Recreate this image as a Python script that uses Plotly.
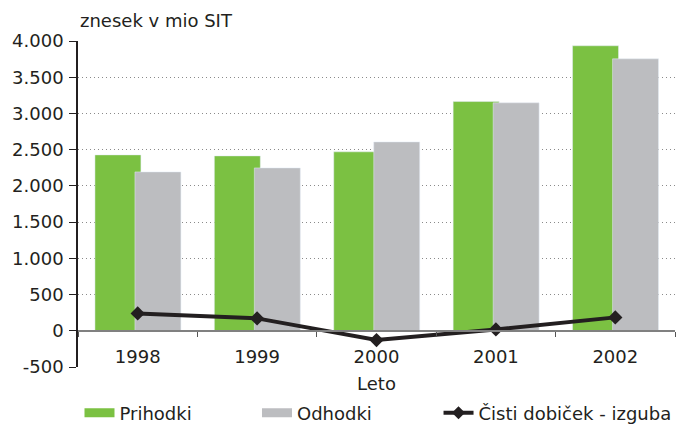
import plotly.graph_objects as go

years = ["1998", "1999", "2000", "2001", "2002"]
prihodki = [2428, 2414, 2470, 3164, 3934]
odhodki = [2193, 2248, 2607, 3147, 3754]
dobicek = [240, 171, -128, 19, 185]

y_tickvals = [-500, 0, 500, 1000, 1500, 2000, 2500, 3000, 3500, 4000]
y_ticktext = ["-500", "0", "500", "1.000", "1.500", "2.000", "2.500", "3.000", "3.500", "4.000"]

GREEN = "#7bc142"
GRAY = "#bcbdc0"
DARK = "#231f20"
FONT = "DejaVu Sans"
FS = 18

fig = go.Figure()
fig.add_trace(go.Bar(x=years, y=prihodki, name="Prihodki", marker_color=GREEN,
                     width=0.385, offset=-0.358, showlegend=False))
fig.add_trace(go.Bar(x=years, y=odhodki, name="Odhodki", marker_color=GRAY,
                     width=0.385, offset=-0.023, showlegend=False))
fig.add_trace(go.Scatter(x=years, y=dobicek, name="Čisti dobiček - izguba", mode="lines+markers",
                         line=dict(color=DARK, width=4),
                         marker=dict(symbol="diamond", size=11, color=DARK), showlegend=False))
# legend entries (one legend each so they can be placed like the reference)
fig.add_trace(go.Scatter(x=[None], y=[None], mode="lines", name="Prihodki",
                         line=dict(color=GREEN, width=9), legend="legend"))
fig.add_trace(go.Scatter(x=[None], y=[None], mode="lines", name="Odhodki",
                         line=dict(color=GRAY, width=9), legend="legend2"))
fig.add_trace(go.Scatter(x=[None], y=[None], mode="lines+markers", name="Čisti dobiček - izguba",
                         line=dict(color=DARK, width=4),
                         marker=dict(symbol="diamond", size=10, color=DARK), legend="legend3"))

leg_common = dict(orientation="h", xanchor="left", y=-0.141, yanchor="middle",
                  font=dict(size=FS, color=DARK), itemwidth=30, bgcolor="rgba(0,0,0,0)",
                  borderwidth=0)

# the page body has an 8px default margin, so the figure is 8px smaller than the window
fig.update_layout(
    width=676, height=417,
    margin=dict(l=70, r=9, t=33, b=58, autoexpand=False),
    paper_bgcolor="white", plot_bgcolor="white",
    barmode="overlay",
    font=dict(family=FONT, size=FS, color=DARK),
    showlegend=True,
    legend=dict(x=0.0025, **leg_common),
    legend2=dict(x=0.2998, **leg_common),
    legend3=dict(x=0.6039, **leg_common),
    xaxis=dict(type="category", range=[-0.5, 4.5], anchor="free", position=0.5 / 4.5,
               showline=True, linecolor="#808080", linewidth=1.5,
               ticks="outside", ticklen=5, tickcolor="#555555", tickson="boundaries",
               showgrid=False, tickfont=dict(size=FS), ticklabelstandoff=10, automargin=False,
               title=dict(text="Leto", standoff=10, font=dict(size=FS))),
    yaxis=dict(range=[-500, 4000], tickvals=y_tickvals, ticktext=y_ticktext,
               showline=True, linecolor=DARK, linewidth=1.5,
               ticks="outside", ticklen=7, tickcolor=DARK, ticklabelstandoff=2,
               showgrid=True, gridcolor="#8a8a8a", griddash="1px,3px", gridwidth=1,
               zeroline=False, tickfont=dict(size=FS), automargin=False),
    annotations=[dict(text="znesek v mio SIT", xref="paper", yref="paper", x=0, y=1,
                      xanchor="left", yanchor="bottom", xshift=0, yshift=8, showarrow=False,
                      font=dict(size=FS, color=DARK))],
)

fig.write_html("out.html")
